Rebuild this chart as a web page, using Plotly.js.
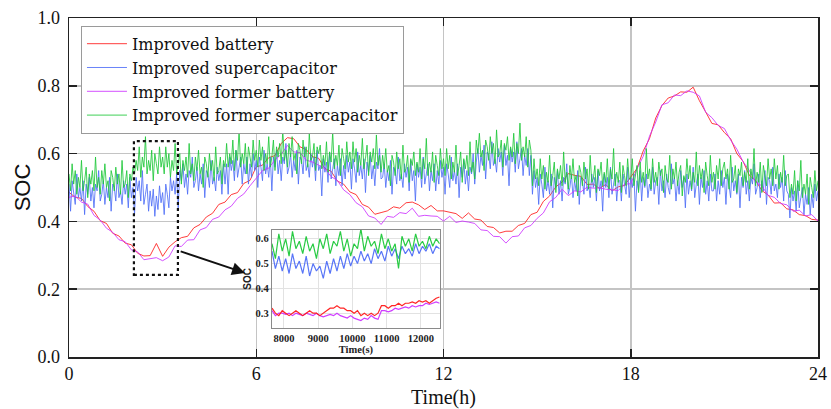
<!DOCTYPE html>
<html>
<head>
<meta charset="utf-8">
<script src="https://cdn.plot.ly/plotly-3.0.1.min.js"></script>
<style>html,body{margin:0;padding:0;background:#fff;}#chart{width:831px;height:409px;}</style>
</head>
<body>
<div id="chart"></div>
<script>
// ---- Data ----
const seriesNames = ["Improved battery", "Improved supercapacitor", "Improved former battery", "Improved former supercapacitor"];

// supercapacitor SOC sampled every 0.05 h (0 .. 24 h)
const capStartH = 0, capStepH = 0.05;
const improvedSupercap = [
// 0.00-2.05
0.51,0.43,0.52,0.49,0.45,0.54,0.47,0.50,0.46,0.52,0.42,0.51,0.48,0.53,0.46,0.50,0.44,0.51,0.49,0.55,0.46,0.48,0.52,0.45,0.50,0.47,0.53,0.43,0.51,0.50,0.46,0.54,0.47,0.49,0.45,0.52,0.48,0.51,0.44,0.53,0.47,0.50,
// 2.10-3.50
0.42,0.53,0.49,0.52,0.46,0.55,0.45,0.48,0.51,0.43,0.49,0.445,0.495,0.415,0.475,0.435,0.505,0.455,0.485,0.42,0.51,0.48,0.44,0.53,0.49,0.52,0.48,0.54,0.44,
// 3.55-5.00
0.55,0.52,0.57,0.50,0.54,0.48,0.55,0.53,0.59,0.50,0.52,0.56,0.49,0.54,0.51,0.57,0.47,0.55,0.54,0.50,0.58,0.51,0.53,0.49,0.56,0.52,0.55,0.48,0.57,0.51,
// 5.05-6.50
0.57,0.48,0.59,0.55,0.58,0.52,0.61,0.53,0.56,0.59,0.51,0.57,0.54,0.59,0.51,0.57,0.53,0.60,0.55,0.58,0.50,0.59,0.56,0.52,0.61,0.54,0.57,0.53,0.59,0.49,
// 6.55-8.00
0.59,0.56,0.61,0.54,0.58,0.52,0.59,0.57,0.63,0.54,0.56,0.60,0.53,0.58,0.55,0.61,0.51,0.59,0.58,0.54,0.62,0.55,0.57,0.53,0.60,0.56,0.59,0.52,0.61,0.55,
// 8.05-10.00
0.565,0.475,0.585,0.545,0.575,0.515,0.605,0.525,0.555,0.585,0.505,0.565,
0.535,0.585,0.505,0.565,0.525,0.595,0.545,0.575,0.495,0.585,0.555,0.515,0.605,0.535,0.565,0.525,0.585,0.485,0.575,0.545,0.595,0.525,0.565,0.505,0.575,0.555,0.615,0.525,
// 10.05-13.00
0.53,0.57,0.50,0.55,0.52,0.58,0.48,0.56,0.55,0.51,0.59,0.52,0.54,0.50,0.57,0.53,0.56,0.49,0.58,0.52,0.55,0.46,0.57,0.53,0.56,0.50,0.59,0.51,0.54,0.57,0.49,0.55,
0.52,0.57,0.49,0.55,0.51,0.58,0.53,0.56,0.48,0.57,0.54,0.50,0.59,0.52,0.55,0.51,0.57,0.47,0.56,0.53,0.58,0.51,0.55,0.49,0.56,0.54,0.60,0.51,
// 13.05-14.80
0.575,0.615,0.545,0.595,0.565,0.625,0.525,0.605,0.595,0.555,0.635,0.565,0.585,0.545,0.615,0.575,0.605,0.535,0.625,0.565,0.595,0.505,0.615,0.575,0.605,0.545,0.635,0.555,0.585,0.615,0.535,0.595,
0.565,0.615,0.535,0.595,
// 14.85-23.00
0.48,0.55,0.50,0.53,0.45,0.54,0.51,0.47,0.56,0.49,0.52,0.48,0.54,0.44,0.53,0.50,0.55,0.48,0.52,0.46,0.53,0.51,0.57,0.48,0.50,0.54,0.47,0.52,0.49,0.55,0.45,0.53,0.52,0.48,0.56,0.49,0.51,0.47,0.54,0.50,0.53,0.46,0.55,0.49,0.52,0.43,0.54,0.50,0.53,0.47,0.56,0.48,0.51,0.54,0.46,0.52,
0.52,0.46,0.54,0.51,0.48,0.56,0.47,0.53,0.50,0.54,0.43,0.52,0.49,0.55,0.46,0.53,0.50,0.54,0.47,0.51,0.49,0.56,0.48,0.52,0.53,0.45,0.55,0.49,0.52,0.47,0.54,0.50,0.48,0.57,0.51,0.53,0.46,0.52,0.48,0.55,0.50,0.53,0.44,0.54,0.48,0.52,0.49,0.56,0.47,0.51,0.54,0.45,0.53,0.50,0.55,0.48,0.52,0.46,0.54,0.49,
0.49,0.54,0.46,0.52,0.48,0.55,0.50,0.53,0.45,0.54,0.51,0.47,0.56,0.49,0.52,0.48,0.54,0.44,0.53,0.50,0.55,0.48,0.52,0.46,0.53,0.51,0.57,0.48,0.50,0.54,0.47,0.52,0.49,0.55,0.45,0.53,0.52,0.48,0.56,0.49,0.51,0.47,0.54,0.50,0.53,0.46,0.55,0.49,
// 23.05-24.00
0.48,0.41,0.50,0.46,0.49,0.43,0.52,0.44,0.47,0.50,0.42,0.48,0.45,0.50,0.42,0.48,0.44,0.51,0.46,0.49
];
const formerSupercap = [
// 0.00-2.05
0.54,0.49,0.57,0.51,0.55,0.48,0.53,0.50,0.58,0.49,0.52,0.56,0.47,0.54,0.51,0.55,0.49,0.59,0.50,0.53,
0.48,0.55,0.51,0.57,0.50,0.52,0.46,0.55,0.53,0.49,0.56,0.51,0.54,0.48,0.58,0.50,0.51,0.55,0.47,0.54,
0.52,0.56,
// 2.10-3.50
0.54,0.58,0.55,0.62,0.53,0.59,0.56,0.65,0.54,0.58,0.55,0.61,0.52,0.60,0.57,0.54,0.62,0.56,
0.59,0.54,0.62,0.56,0.60,0.53,0.58,0.55,0.63,0.54,0.57,
// 3.55-5.00
0.60,0.51,0.58,0.55,0.59,0.53,0.63,0.54,0.57,0.52,0.59,0.55,0.61,0.54,0.56,0.50,0.59,0.57,0.53,0.60,0.55,0.58,0.52,0.62,0.54,0.55,0.59,0.51,0.58,0.56,
// 5.05-6.50
0.63,0.56,0.60,0.57,0.64,0.55,0.61,0.58,0.67,0.56,0.60,0.57,0.63,0.54,0.62,0.59,0.56,0.64,0.58,
0.61,0.56,0.64,0.58,0.62,0.55,0.60,0.57,0.65,0.56,0.59,
// 6.55-8.00
0.64,0.55,0.62,0.59,0.63,0.57,0.67,0.58,0.61,0.56,0.63,0.59,0.65,0.58,0.60,0.54,0.63,0.61,0.57,0.64,0.59,0.62,0.56,0.66,0.58,0.59,0.63,0.55,0.62,0.60,
// 8.05-10.00
0.625,0.555,0.595,0.565,0.635,0.545,0.605,0.575,0.665,0.555,0.595,0.565,0.625,0.535,0.615,0.585,0.555,0.635,0.575,
0.605,0.555,0.635,0.575,0.615,0.545,0.595,0.565,0.645,0.555,0.585,0.625,0.535,0.605,0.575,0.615,0.555,0.655,0.565,0.595,0.545,
// 10.05-13.00
0.595,0.555,0.615,0.545,0.565,0.505,0.595,0.575,0.535,0.605,0.555,0.585,0.525,0.625,0.545,0.555,0.595,0.515,0.585,0.565,0.605,0.535,0.575,0.545,0.615,0.525,0.585,0.555,0.645,0.535,0.575,0.545,0.605,0.515,0.595,0.565,0.535,0.615,0.555,
0.585,0.535,0.615,0.555,0.595,0.525,0.575,0.545,0.625,0.535,0.565,0.605,0.515,0.585,0.555,0.595,0.535,0.635,0.545,0.575,0.525,
// 13.05-14.80
0.64,0.60,0.66,0.59,0.61,0.55,0.64,0.62,0.58,0.65,0.60,0.63,0.57,0.67,0.59,0.60,0.64,0.56,0.63,0.61,0.65,0.58,0.62,0.59,0.66,0.57,0.63,0.60,0.69,0.58,0.62,0.59,0.65,0.56,0.64,0.61,
// 14.85-23.00
0.505,0.585,0.525,
0.555,0.505,0.585,0.525,0.565,0.495,0.545,0.515,0.595,0.505,
0.535,0.575,0.485,0.555,0.525,0.565,0.505,0.605,0.515,0.545,
0.495,0.565,0.525,0.585,0.515,0.535,0.475,0.565,0.545,0.505,
0.575,0.525,0.555,0.495,0.595,0.515,0.525,0.565,0.485,0.555,
0.535,0.575,0.505,0.545,0.515,0.585,0.495,0.555,0.525,0.615,
0.505,0.545,0.515,0.575,0.485,0.565,0.535,0.505,0.585,0.525,
0.525,0.585,0.505,0.535,0.565,0.485,0.575,0.515,0.545,0.505,
0.615,0.525,0.555,0.495,0.585,0.515,0.545,0.505,0.575,0.535,
0.555,0.485,0.565,0.525,0.515,0.595,0.495,0.555,0.525,0.575,
0.505,0.545,0.565,0.475,0.535,0.515,0.585,0.525,0.565,0.495,
0.545,0.515,0.605,0.505,0.565,0.525,0.555,0.485,0.575,0.535,
0.505,0.595,0.515,0.545,0.495,0.565,0.525,0.585,0.505,0.555,
0.575,0.525,0.555,0.495,0.595,0.515,0.525,0.565,0.485,0.555,0.535,0.575,0.505,0.545,0.515,0.585,0.495,0.555,0.525,0.615,0.505,0.545,0.515,0.575,0.485,0.565,0.535,0.505,0.585,0.525,
0.555,0.505,0.585,0.525,0.565,0.495,0.545,0.515,0.595,0.505,0.535,
// 23.05-24.00
0.54,0.47,0.51,0.48,0.55,0.46,0.52,0.49,0.58,0.47,0.51,0.48,0.54,0.45,0.53,0.50,0.47,0.55,0.49,0.52
];

// battery SOC sampled every 0.2 h (0 .. 24 h)
const batStartH = 0, batStepH = 0.2;
const improvedBattery = [
0.486,0.471,0.468,0.444,0.430,0.402,0.394,0.365,0.357,0.336,
0.331,0.306,0.298,0.299,0.335,0.297,0.324,0.340,0.352,0.356,
0.381,0.391,0.413,0.424,0.450,0.457,0.479,0.485,0.512,0.521,
0.561,0.566,0.588,0.594,0.630,0.647,0.644,0.620,0.612,0.591,
0.586,0.556,0.548,0.519,0.510,0.487,0.479,0.450,0.442,0.421,
0.426,0.431,0.443,0.439,0.455,0.457,0.449,0.435,0.447,0.431,
0.431,0.426,0.423,0.409,0.425,0.407,0.404,0.385,0.382,0.366,
0.371,0.371,0.388,0.394,0.420,0.427,0.459,0.475,0.502,0.516,
0.541,0.536,0.533,0.509,0.510,0.497,0.509,0.490,0.502,0.506,
0.531,0.556,0.608,0.644,0.705,0.742,0.764,0.770,0.782,0.781,
0.796,0.756,0.723,0.689,0.685,0.662,0.644,0.600,0.577,0.536,
0.521,0.491,0.478,0.454,0.455,0.437,0.434,0.420,0.417,0.406,
0.404
];
const formerBattery = [
0.471,0.475,0.457,0.451,0.418,0.404,0.380,0.368,0.346,0.340,
0.316,0.310,0.287,0.291,0.293,0.284,0.295,0.328,0.326,0.345,
0.346,0.375,0.382,0.406,0.413,0.434,0.445,0.468,0.481,0.505,
0.526,0.550,0.557,0.581,0.598,0.624,0.605,0.603,0.581,0.575,
0.566,0.555,0.532,0.521,0.493,0.479,0.455,0.443,0.416,0.410,
0.391,0.415,0.412,0.426,0.423,0.439,0.415,0.418,0.416,0.415,
0.401,0.415,0.397,0.401,0.398,0.394,0.375,0.373,0.356,0.355,
0.336,0.355,0.357,0.381,0.388,0.409,0.425,0.458,0.471,0.495,
0.476,0.490,0.487,0.501,0.498,0.499,0.495,0.493,0.491,0.510,
0.511,0.555,0.592,0.651,0.693,0.744,0.750,0.773,0.771,0.785,
0.781,0.770,0.722,0.706,0.683,0.674,0.640,0.613,0.576,0.550,
0.516,0.505,0.477,0.471,0.453,0.449,0.430,0.433,0.416,0.420,
0.401
];

// inset (zoom of 7650 .. 12550 s), sampled every 100 s
const insetStartS = 7650, insetStepS = 100, insetEndS = 12555;
const insetImprovedBattery = [
0.32,0.30,0.29,0.31,0.30,0.29,0.30,0.31,0.30,0.29,
0.30,0.31,0.30,0.30,0.29,0.30,0.31,0.32,0.32,0.33,
0.32,0.32,0.31,0.31,0.30,0.31,0.29,0.30,0.29,0.30,
0.29,0.30,0.33,0.33,0.32,0.33,0.33,0.34,0.33,0.34,
0.34,0.345,0.34,0.35,0.345,0.35,0.34,0.35,0.36,0.365
];
const insetImprovedSupercap = [
0.55,0.48,0.53,0.47,0.52,0.46,0.54,0.48,0.51,0.46,
0.53,0.45,0.50,0.47,0.49,0.44,0.51,0.46,0.52,0.47,
0.53,0.48,0.54,0.49,0.53,0.50,0.55,0.51,0.54,0.50,
0.56,0.52,0.55,0.51,0.57,0.53,0.56,0.52,0.57,0.54,
0.56,0.53,0.58,0.54,0.57,0.55,0.58,0.54,0.57,0.56
];
const insetFormerBattery = [
0.31,0.29,0.30,0.30,0.295,0.30,0.29,0.30,0.295,0.29,
0.30,0.295,0.29,0.30,0.29,0.285,0.29,0.295,0.29,0.30,
0.29,0.285,0.28,0.29,0.28,0.275,0.27,0.28,0.275,0.29,
0.28,0.275,0.31,0.31,0.305,0.31,0.32,0.315,0.32,0.325,
0.32,0.33,0.325,0.33,0.33,0.34,0.335,0.34,0.345,0.34
];
const insetFormerSupercap = [
0.58,0.52,0.62,0.55,0.60,0.53,0.63,0.56,0.59,0.54,
0.61,0.55,0.58,0.52,0.60,0.56,0.62,0.54,0.59,0.57,
0.63,0.55,0.60,0.53,0.58,0.56,0.64,0.55,0.61,0.57,
0.59,0.54,0.62,0.56,0.60,0.55,0.58,0.48,0.61,0.57,
0.60,0.55,0.62,0.57,0.59,0.56,0.61,0.57,0.60,0.58
];

const xTicksMain = [0, 6, 12, 18, 24];
const yTicksMain = [0.0, 0.2, 0.4, 0.6, 0.8, 1.0];
const xTicksInset = [8000, 9000, 10000, 11000, 12000];
const yTicksInset = [0.3, 0.4, 0.5, 0.6];
const insetRangeSOC = [0.24, 0.636];
const zoomWindowH = [2.08, 3.49];
const zoomWindowSOC = [0.242, 0.637];

// ---- build sample times ----
function times(start, step, n) {
  const out = [];
  for (let i = 0; i < n; i++) out.push(Math.round((start + i * step) * 1000) / 1000);
  return out;
}
const tCap = times(capStartH, capStepH, improvedSupercap.length);
const tCap2 = times(capStartH, capStepH, formerSupercap.length);
const tBat = times(batStartH, batStepH, improvedBattery.length);
const tIn = times(insetStartS, insetStepS, insetImprovedBattery.length);

const colors = ['#ff1a1a', '#4f6ef7', '#cc33ff', '#1ec83a'];
const serif = 'Liberation Serif, Times New Roman, serif';

function tr(x, y, i, inset, show) {
  return {
    x: x, y: y, type: 'scatter', mode: 'lines', name: seriesNames[i],
    line: {color: colors[i], width: inset ? 1.2 : 1}, opacity: inset ? 0.95 : 0.85,
    xaxis: inset ? 'x2' : 'x', yaxis: inset ? 'y2' : 'y', showlegend: show
  };
}

const data = [
  tr(tBat, improvedBattery, 0, false, true),
  tr(tCap, improvedSupercap, 1, false, true),
  tr(tBat, formerBattery, 2, false, true),
  tr(tCap2, formerSupercap, 3, false, true),
  tr(tIn, insetImprovedSupercap, 1, true, false),
  tr(tIn, insetFormerSupercap, 3, true, false),
  tr(tIn, insetFormerBattery, 2, true, false),
  tr(tIn, insetImprovedBattery, 0, true, false)
];

const layout = {
  width: 831, height: 409,
  margin: {l: 69, r: 13, t: 18, b: 52},
  paper_bgcolor: '#fff', plot_bgcolor: '#fff',
  font: {family: serif, color: '#111'},
  xaxis: {
    domain: [0, 1], range: [0, 24], tickvals: xTicksMain, ticktext: xTicksMain.map(String),
    showline: true, linecolor: '#222', linewidth: 1.5, mirror: 'ticks',
    ticks: 'inside', ticklen: 8, tickwidth: 1.5, tickcolor: '#222',
    showgrid: true, gridcolor: '#c4c4c4', gridwidth: 1.5, zeroline: false,
    tickfont: {family: serif, size: 18, color: '#111'},
    title: {text: 'Time(h)', font: {family: serif, size: 20, color: '#111'}, standoff: 11},
    automargin: false
  },
  yaxis: {
    domain: [0, 1], range: [0, 1], tickvals: yTicksMain, ticktext: yTicksMain.map(v => v.toFixed(1)),
    showline: true, linecolor: '#222', linewidth: 1.5, mirror: 'ticks',
    ticks: 'inside', ticklen: 8, tickwidth: 1.5, tickcolor: '#222',
    showgrid: true, gridcolor: '#c4c4c4', gridwidth: 1.5, zeroline: false,
    tickfont: {family: serif, size: 18, color: '#111'}, ticklabelstandoff: 4,
    title: {text: 'SOC', font: {family: 'Liberation Sans, Arial, sans-serif', size: 22, color: '#111'}, standoff: 0},
    automargin: false
  },
  xaxis2: {
    domain: [0.271, 0.495], anchor: 'y2', range: [insetStartS, insetEndS],
    tickvals: xTicksInset, ticktext: xTicksInset.map(String),
    showline: true, linecolor: '#8a8a8a', linewidth: 1.2, mirror: true,
    ticks: '', showgrid: true, gridcolor: '#e2e2e2', gridwidth: 1, zeroline: false,
    tickfont: {family: serif, size: 10.5, color: '#222', weight: 'bold'},
    title: {text: '<b>Time(s)</b>', font: {family: serif, size: 10.5, color: '#222'}, standoff: 2},
    automargin: false
  },
  yaxis2: {
    domain: [0.0855, 0.375], anchor: 'x2', range: insetRangeSOC,
    tickvals: yTicksInset, ticktext: yTicksInset.map(v => v.toFixed(1)),
    showline: true, linecolor: '#8a8a8a', linewidth: 1.2, mirror: true,
    ticks: '', showgrid: true, gridcolor: '#e2e2e2', gridwidth: 1, zeroline: false,
    tickfont: {family: serif, size: 10.5, color: '#222', weight: 'bold'},
    title: {text: '<b>SOC</b>', font: {family: 'Liberation Sans, Arial, sans-serif', size: 10, color: '#222'}, standoff: 2},
    automargin: false
  },
  showlegend: true,
  legend: {
    x: 0.016, y: 0.977, xanchor: 'left', yanchor: 'top',
    bgcolor: '#fff', bordercolor: '#9a9a9a', borderwidth: 1,
    font: {family: 'DejaVu Serif, serif', size: 16, color: '#111'},
    tracegroupgap: 0, itemwidth: 40
  },
  shapes: [
    {type: 'rect', xref: 'x2', yref: 'y2', x0: insetStartS, x1: insetEndS, y0: insetRangeSOC[0], y1: insetRangeSOC[1],
     fillcolor: '#fff', line: {width: 0}, layer: 'below'},
    {type: 'rect', xref: 'x', yref: 'y', x0: zoomWindowH[0], x1: zoomWindowH[1], y0: zoomWindowSOC[0], y1: zoomWindowSOC[1],
     line: {color: '#111', width: 2.2, dash: 'dot'}, fillcolor: 'rgba(0,0,0,0)', layer: 'above'}
  ],
  annotations: [
    {x: 5.64, y: 0.248, xref: 'x', yref: 'y', ax: 3.53, ay: 0.313, axref: 'x', ayref: 'y',
     text: '', showarrow: true, arrowhead: 2, arrowsize: 1.3, arrowwidth: 2, arrowcolor: '#111'}
  ]
};

Plotly.newPlot('chart', data, layout, {displayModeBar: false, staticPlot: true});
</script>
</body>
</html>
